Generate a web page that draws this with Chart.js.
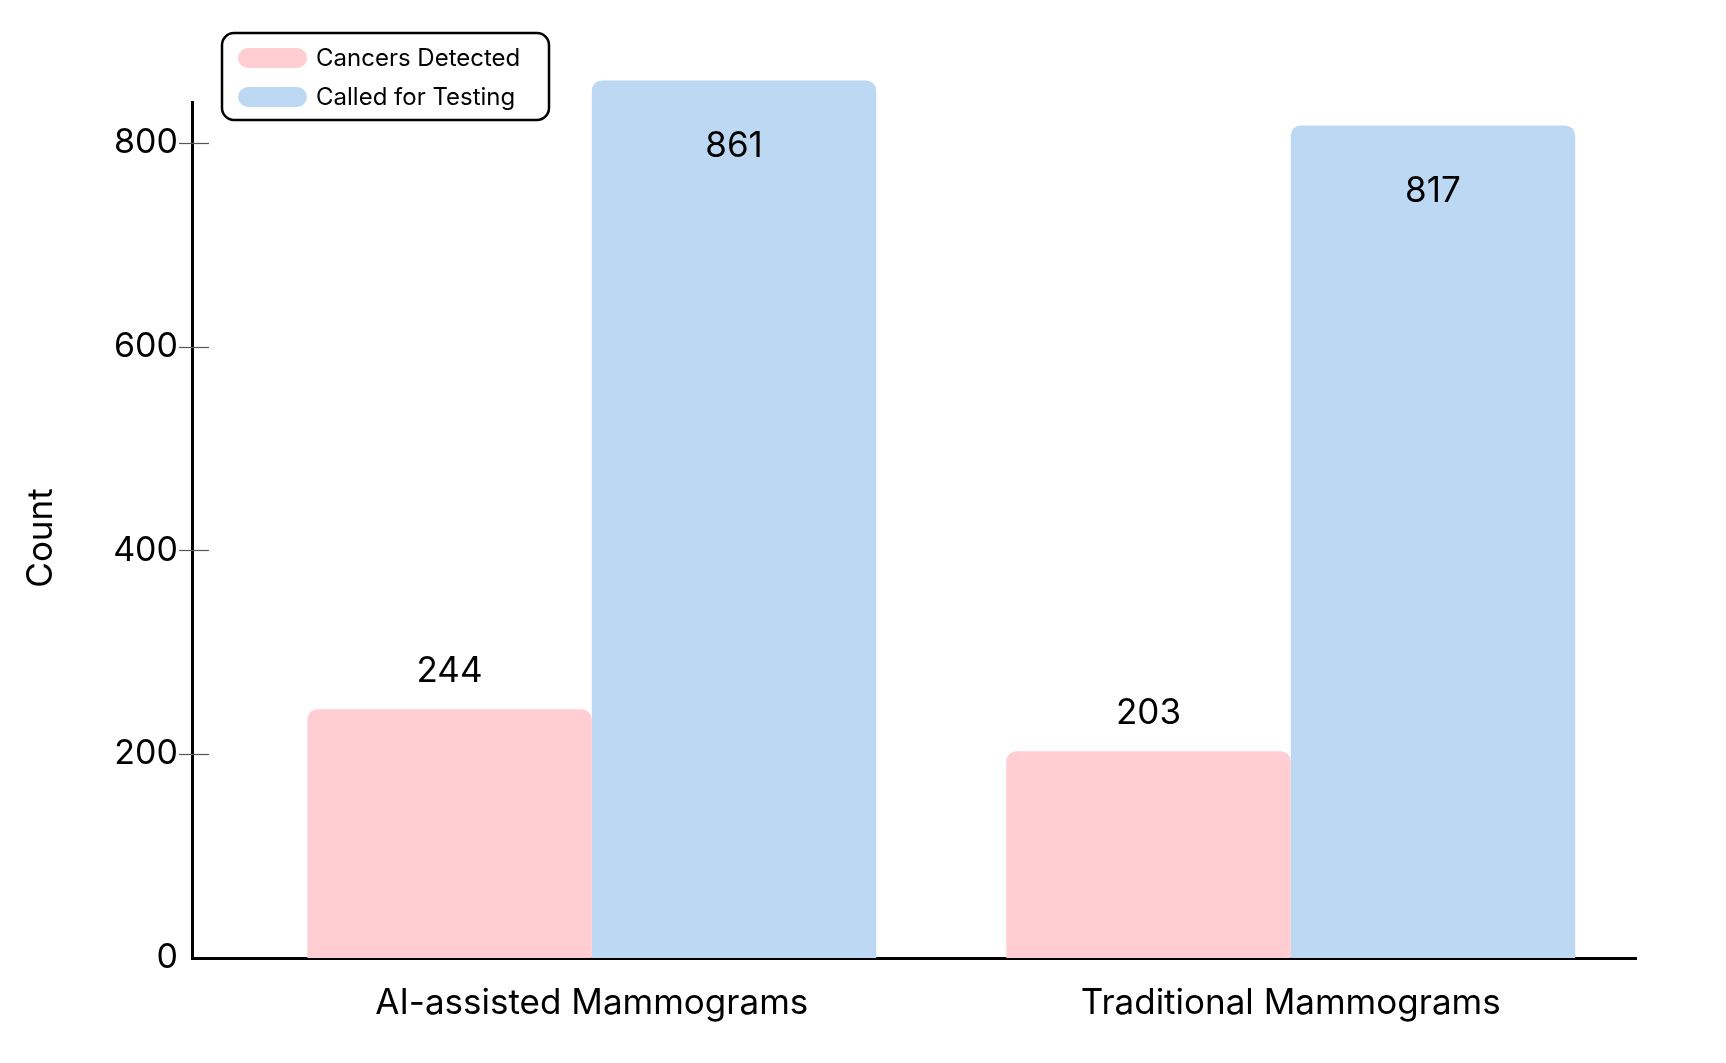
<!DOCTYPE html>
<html>
<head>
<meta charset="utf-8">
<title>Mammograms</title>
<script src="https://cdn.jsdelivr.net/npm/chart.js@4.4.1/dist/chart.umd.min.js"></script>
<style>
  html, body { margin: 0; padding: 0; background: #fff; }
  #wrap { width: 1726px; height: 1063px; }
</style>
</head>
<body>
<div id="wrap"><canvas id="grafico" width="1726" height="1063"></canvas></div>
<script>
// Dados do gráfico
const categories = ["AI-assisted Mammograms", "Traditional Mammograms"];
const seriesNames = ["Cancers Detected", "Called for Testing"];
const cancersDetected = [244, 203];
const calledForTesting = [861, 817];
const yTicks = [0, 200, 400, 600, 800];
const yTitle = "Count";

const pink = "rgb(255, 205, 210)";
const blue = "rgb(189, 216, 242)";
const fontFamily = "Inter, 'Noto Sans', sans-serif";

function toPoints(values) {
  return values.map((v, i) => ({ x: i, y: v }));
}

// Pequenas marcas de escala que cruzam o eixo y + título do eixo
const tickMarks = {
  id: "tickMarks",
  afterDraw(chart) {
    const ctx = chart.ctx;
    const y = chart.scales.y;
    const left = chart.chartArea.left;
    ctx.save();
    ctx.strokeStyle = "#555";
    ctx.lineWidth = 1.2;
    yTicks.forEach((t) => {
      if (t === 0) return;
      const py = Math.round(y.getPixelForValue(t)) + 0.5;
      ctx.beginPath();
      ctx.moveTo(left - 13, py);
      ctx.lineTo(left + 17, py);
      ctx.stroke();
    });

    // título do eixo y
    ctx.translate(41, 538);
    ctx.rotate(-Math.PI / 2);
    ctx.font = "35px " + fontFamily;
    ctx.fillStyle = "#000";
    ctx.textAlign = "center";
    ctx.textBaseline = "middle";
    ctx.fillText(yTitle, 0, 0);
    ctx.restore();
  },
};

// Rótulos de valores nas barras
const valueLabels = {
  id: "valueLabels",
  afterDatasetsDraw(chart) {
    const ctx = chart.ctx;
    ctx.save();
    ctx.font = "35px " + fontFamily;
    ctx.fillStyle = "#000";
    ctx.textAlign = "center";
    ctx.textBaseline = "middle";
    chart.data.datasets.forEach((ds, di) => {
      const meta = chart.getDatasetMeta(di);
      meta.data.forEach((bar, i) => {
        const value = ds.data[i].y;
        const py = di === 0 ? bar.y - 38 : bar.y + 66;
        ctx.fillText(String(value), bar.x, py);
      });
    });
    ctx.restore();
  },
};

// Legenda com caixa arredondada
const boxLegend = {
  id: "boxLegend",
  afterDraw(chart) {
    const ctx = chart.ctx;
    ctx.save();
    ctx.beginPath();
    ctx.roundRect(222, 33, 327, 87, 12);
    ctx.fillStyle = "#fff";
    ctx.fill();
    ctx.lineWidth = 2.5;
    ctx.strokeStyle = "#000";
    ctx.stroke();

    ctx.font = "24px " + fontFamily;
    ctx.textBaseline = "middle";
    ctx.textAlign = "left";
    chart.data.datasets.forEach((ds, i) => {
      const cy = 58 + i * 39;
      ctx.beginPath();
      ctx.roundRect(238, cy - 10, 69, 20, 10);
      ctx.fillStyle = ds.backgroundColor;
      ctx.fill();
      ctx.fillStyle = "#000";
      ctx.fillText(ds.label, 316, cy + 1);
    });
    ctx.restore();
  },
};

const ctx = document.getElementById("grafico");
new Chart(ctx, {
  type: "bar",
  data: {
    datasets: [
      {
        label: seriesNames[0],
        data: toPoints(cancersDetected),
        backgroundColor: pink,
        borderRadius: { topLeft: 10, topRight: 10 },
        borderSkipped: "bottom",
        clip: false,
      },
      {
        label: seriesNames[1],
        data: toPoints(calledForTesting),
        backgroundColor: blue,
        borderRadius: { topLeft: 10, topRight: 10 },
        borderSkipped: "bottom",
        clip: false,
      },
    ],
  },
  options: {
    responsive: false,
    devicePixelRatio: 1,
    animation: false,
    categoryPercentage: 0.814,
    barPercentage: 1,
    layout: { padding: { left: 0, right: 90, top: 102, bottom: 0 } },
    plugins: {
      legend: { display: false },
      tooltip: { enabled: false },
    },
    scales: {
      x: {
        type: "linear",
        offset: false,
        min: -0.572,
        max: 1.494,
        afterBuildTicks: (scale) => {
          scale.ticks = categories.map((c, i) => ({ value: i }));
        },
        afterFit: (scale) => {
          scale.height = 105;
        },
        grid: { display: false, drawTicks: false, offset: false },
        border: { display: true, color: "#000", width: 3 },
        ticks: {
          padding: 24,
          color: "#000",
          font: { family: fontFamily, size: 35 },
          maxRotation: 0,
          autoSkip: false,
          callback: (v) => categories[v],
        },
      },
      y: {
        min: 0,
        max: 840,
        afterBuildTicks: (scale) => {
          scale.ticks = yTicks.map((v) => ({ value: v }));
        },
        afterFit: (scale) => {
          scale.width = 192;
        },
        grid: { display: false, drawTicks: false },
        border: { display: true, color: "#000", width: 3 },
        ticks: {
          padding: 14,
          color: "#000",
          font: { family: fontFamily, size: 34 },
        },
      },
    },
  },
  plugins: [tickMarks, valueLabels, boxLegend],
});
</script>
</body>
</html>
